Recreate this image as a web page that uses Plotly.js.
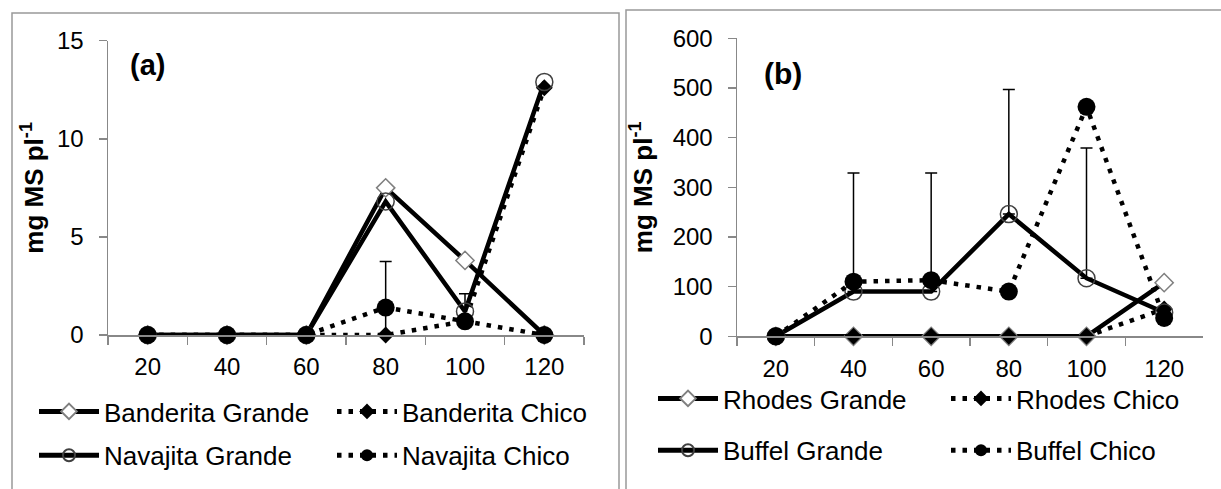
<!DOCTYPE html>
<html><head><meta charset="utf-8">
<script src="https://cdn.plot.ly/plotly-3.0.1.min.js"></script>
<style>html,body{margin:0;padding:0;background:#fff;}#chart{width:1221px;height:489px;}</style>
</head><body><div id="chart"></div>
<script>
// ---------- data ----------
const categories = ['20', '40', '60', '80', '100', '120'];
// panel (a)
const banderitaGrande = [0, 0, 0, 7.5, 3.8, 0];
const banderitaChico  = [0, 0, 0, 0, 0.7, 12.6];
const navajitaGrande  = [0, 0, 0, 6.8, 1.2, 12.9];
const navajitaChico   = [0, 0, 0, 1.4, 0.7, 0];
const banderitaChicoErr = [0, 0, 0, 3.75, 1.4, 0];
const yTicksA = [0, 5, 10, 15];
// panel (b)
const rhodesGrande = [0, 0, 0, 0, 0, 108];
const rhodesChico  = [0, 0, 0, 0, 0, 55];
const buffelGrande = [0, 90, 90, 246, 117, 48];
const buffelChico  = [0, 110, 113, 90, 462, 37];
const buffelGrandeErr = [0, 239, 239, 251, 262, 0];
const yTicksB = [0, 100, 200, 300, 400, 500, 600];

const W = 1221, H = 489;
const px = v => v / W;
const py = v => 1 - v / H;
const FONT = 'Liberation Sans, Arial, sans-serif';
const GRAY = '#888888';

const solid = {color: '#000', width: 4.5};
const dotted = {color: '#000', width: 4.5, dash: '4.5px,7px'};
const mOpenDiamond = {symbol: 'diamond', size: 14, color: '#ffffff', line: {color: '#7f7f7f', width: 1.5}};
const mFillDiamond = {symbol: 'diamond', size: 13, color: '#000'};
const mOpenCircle = {symbol: 'circle-open', size: 17, color: '#404040', line: {width: 1.5}};
const mFillCircle = {symbol: 'circle', size: 18, color: '#000'};
const errStyle = arr => ({type: 'data', array: arr, symmetric: false, arrayminus: arr.map(() => 0), color: '#000', thickness: 1.5, width: 6});

function tr(name, y, line, marker, xa, ya, legend, grp, err) {
  const t = {type: 'scatter', mode: 'lines+markers', name: name, x: categories, y: y,
    line: line, marker: marker, xaxis: xa, yaxis: ya, legend: legend, legendgroup: grp,
    cliponaxis: false, hoverinfo: 'skip'};
  if (err) t.error_y = errStyle(err);
  return t;
}

const data = [
  tr('Banderita Grande', banderitaGrande, solid, mOpenDiamond, 'x', 'y', 'legend', 'a1'),
  tr('Banderita Chico', banderitaChico, dotted, mFillDiamond, 'x', 'y', 'legend2', 'a2', banderitaChicoErr),
  tr('Navajita Grande', navajitaGrande, solid, mOpenCircle, 'x', 'y', 'legend', 'a3'),
  tr('Navajita Chico', navajitaChico, dotted, mFillCircle, 'x', 'y', 'legend2', 'a4'),
  tr('Rhodes Grande', rhodesGrande, solid, mOpenDiamond, 'x2', 'y2', 'legend3', 'b1'),
  tr('Rhodes Chico', rhodesChico, dotted, mFillDiamond, 'x2', 'y2', 'legend4', 'b2'),
  tr('Buffel Grande', buffelGrande, solid, mOpenCircle, 'x2', 'y2', 'legend3', 'b3', buffelGrandeErr),
  tr('Buffel Chico', buffelChico, dotted, mFillCircle, 'x2', 'y2', 'legend4', 'b4')
];

function xAxis(d, anchor) {
  return {domain: d, anchor: anchor, type: 'category', range: [-0.5, 5.5], tickson: 'boundaries',
    ticks: 'outside', ticklen: 8, tickwidth: 1.5, tickcolor: GRAY, showline: true, linecolor: GRAY, linewidth: 1.5,
    showgrid: false, zeroline: false, ticklabelstandoff: 10,
    tickfont: {family: FONT, size: 24, color: '#000'}, fixedrange: true};
}
function yAxis(d, anchor, range, tv, standoff) {
  return {domain: d, anchor: anchor, range: range, tickvals: tv, ticks: 'outside', ticklen: 8, tickwidth: 1.5,
    tickcolor: GRAY, showline: true, linecolor: GRAY, linewidth: 1.5, showgrid: false, zeroline: false,
    ticklabelstandoff: 10,
    tickfont: {family: FONT, size: 24, color: '#000'}, fixedrange: true,
    title: {text: '<b>mg MS pl<sup>-1</sup></b>', font: {family: FONT, size: 26, color: '#000'}, standoff: standoff}};
}
function legendAt(x, yTop, gap) {
  return {x: px(x), y: py(yTop), xanchor: 'left', yanchor: 'top', orientation: 'v', bgcolor: 'rgba(0,0,0,0)',
    font: {family: FONT, size: 26, color: '#000'}, tracegroupgap: gap, itemsizing: 'constant', itemwidth: 60,
    itemclick: false, itemdoubleclick: false};
}

const layout = {
  width: W, height: H, margin: {l: 0, r: 0, t: 0, b: 0}, paper_bgcolor: '#fff', plot_bgcolor: 'rgba(0,0,0,0)',
  showlegend: true,
  xaxis: xAxis([px(108), px(584)], 'y'),
  yaxis: yAxis([py(335), py(40.7)], 'x', [0, 15], yTicksA, 6),
  xaxis2: xAxis([px(737), px(1203)], 'y2'),
  yaxis2: yAxis([py(336.3), py(38.3)], 'x2', [0, 600], yTicksB, 12),
  legend: legendAt(34, 388, 7),
  legend2: legendAt(332, 388, 7),
  legend3: legendAt(653, 375, 15),
  legend4: legendAt(946, 375, 15),
  annotations: [
    {text: '<b>(a)</b>', xref: 'paper', yref: 'paper', x: px(147), y: py(65), xanchor: 'center', yanchor: 'middle', showarrow: false, font: {family: FONT, size: 29, color: '#000'}},
    {text: '<b>(b)</b>', xref: 'paper', yref: 'paper', x: px(783), y: py(74), xanchor: 'center', yanchor: 'middle', showarrow: false, font: {family: FONT, size: 30, color: '#000'}}
  ],
  shapes: [
    {type: 'rect', xref: 'paper', yref: 'paper', x0: px(12), x1: px(619), y0: py(520), y1: py(13), line: {color: '#999', width: 1.5}},
    {type: 'rect', xref: 'paper', yref: 'paper', x0: px(626), x1: px(1240), y0: py(520), y1: py(10), line: {color: '#999', width: 1.5}}
  ]
};

Plotly.newPlot('chart', data, layout, {staticPlot: true, displayModeBar: false});
</script>
</body></html>
